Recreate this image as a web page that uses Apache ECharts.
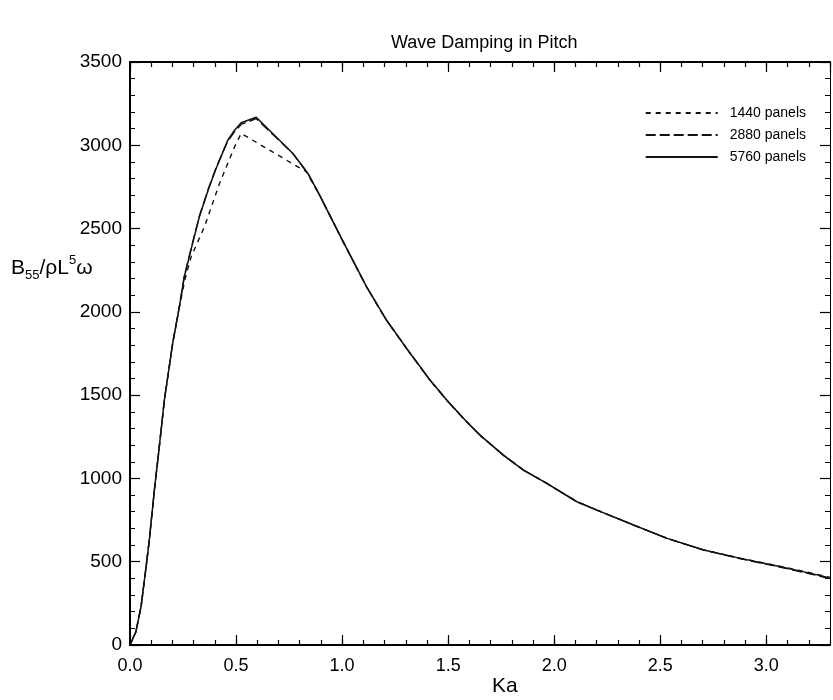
<!DOCTYPE html>
<html>
<head>
<meta charset="utf-8">
<script src="https://cdn.jsdelivr.net/npm/echarts@6/dist/echarts.min.js"></script>
<style>
  html, body { margin: 0; padding: 0; background: #fff; }
  #chart { width: 833px; height: 700px; }
</style>
</head>
<body>
<div id="chart"></div>
<script>
// Ka values and damping for each mesh
var ka5760 = [0, 0.028, 0.052, 0.072, 0.091, 0.115, 0.138, 0.162, 0.201, 0.233, 0.256, 0.293, 0.327, 0.371, 0.406, 0.461, 0.493, 0.524, 0.595, 0.768, 0.839, 0.894, 0.997, 1.115, 1.209, 1.304, 1.414, 1.500, 1.587, 1.650, 1.760, 1.855, 1.965, 2.107, 2.201, 2.374, 2.532, 2.705, 2.878, 3.067, 3.209, 3.300];
var b5760 = [0, 80, 230, 430, 630, 930, 1190, 1470, 1810, 2031, 2211, 2401, 2571, 2741, 2861, 3031, 3091, 3135, 3168, 2951, 2831, 2701, 2441, 2151, 1951, 1781, 1591, 1460, 1340, 1260, 1140, 1050, 970, 860, 810, 720, 640, 570, 520, 470, 430, 403];

var ka2880 = [0, 0.028, 0.052, 0.072, 0.091, 0.115, 0.138, 0.162, 0.201, 0.233, 0.256, 0.293, 0.327, 0.371, 0.406, 0.461, 0.493, 0.524, 0.595, 0.768, 0.839, 0.894, 0.997, 1.115, 1.209, 1.304, 1.414, 1.500, 1.587, 1.650, 1.760, 1.855, 1.965, 2.107, 2.201, 2.374, 2.532, 2.705, 2.878, 3.067, 3.209, 3.300];
var b2880 = [0, 82, 232, 432, 632, 932, 1192, 1472, 1812, 2035, 2215, 2405, 2575, 2745, 2866, 3025, 3082, 3125, 3160, 2950, 2830, 2700, 2440, 2150, 1950, 1780, 1590, 1460, 1340, 1260, 1140, 1050, 970, 860, 810, 720, 640, 570, 518, 467, 426, 398];

var ka1440 = [0, 0.028, 0.052, 0.072, 0.091, 0.115, 0.138, 0.162, 0.201, 0.233, 0.260, 0.288, 0.351, 0.422, 0.493, 0.524, 0.831, 0.894, 0.997, 1.115, 1.209, 1.304, 1.414, 1.500, 1.587, 1.650, 1.760, 1.855, 1.965, 2.107, 2.201, 2.374, 2.532, 2.705, 2.878, 3.067, 3.209, 3.300];
var b1440 = [0, 78, 226, 426, 626, 926, 1186, 1466, 1805, 2030, 2200, 2330, 2511, 2771, 2991, 3071, 2841, 2700, 2440, 2150, 1950, 1780, 1590, 1460, 1340, 1260, 1140, 1050, 970, 860, 810, 720, 640, 570, 521, 472, 433, 406];

var seriesNames = ["1440 panels", "2880 panels", "5760 panels"];

function pairs(xs, ys) {
  var out = [];
  for (var i = 0; i < xs.length; i++) {
    out.push([xs[i], ys[i]]);
  }
  return out;
}

var myChart = echarts.init(document.getElementById("chart"));
var font = "'Liberation Sans', Arial, Helvetica, sans-serif";

// shared axis pieces
function xAx(pos, interval, len, labels) {
  return {
    type: "value",
    position: pos,
    min: 0,
    max: 3.3,
    interval: interval,
    splitLine: { show: false },
    axisLine: { show: labels !== null, onZero: false, lineStyle: { color: "#000", width: 2 } },
    axisTick: { show: true, inside: true, length: len, lineStyle: { color: "#000", width: 1.2 } },
    axisLabel: labels ? {
      show: true,
      margin: 12,
      showMaxLabel: false,
      color: "#000",
      fontSize: 18,
      fontFamily: font,
      formatter: function (v) { return v.toFixed(1); }
    } : { show: false }
  };
}

function yAx(pos, labels, lw) {
  return {
    type: "value",
    position: pos,
    min: 0,
    max: 3500,
    interval: 500,
    splitLine: { show: false },
    axisLine: { show: true, onZero: false, lineStyle: { color: "#000", width: lw } },
    axisTick: { show: true, inside: true, length: 10, lineStyle: { color: "#000", width: 1.2 } },
    minorTick: { show: true, splitNumber: 5, length: 5, lineStyle: { color: "#000", width: 1 } },
    axisLabel: labels ? {
      show: true,
      margin: 8,
      color: "#000",
      fontSize: 19,
      fontFamily: font,
      formatter: function (v) { return String(v); }
    } : { show: false }
  };
}

var option = {
  animation: false,
  backgroundColor: "#fff",
  title: {
    text: "Wave Damping in Pitch",
    left: 386,
    top: 29,
    textStyle: { color: "#000", fontSize: 18, fontWeight: "normal", fontFamily: font }
  },
  legend: {
    orient: "vertical",
    right: 22,
    top: 101,
    itemWidth: 72,
    itemHeight: 16,
    itemGap: 8,
    data: seriesNames,
    itemStyle: { opacity: 0 },
    textStyle: { color: "#000", fontSize: 14, fontFamily: font, padding: [0, 0, 0, 7] }
  },
  grid: {
    left: 130,
    right: 3,
    top: 62,
    bottom: 55,
    containLabel: false
  },
  xAxis: [
    xAx("bottom", 0.5, 10, true),
    xAx("bottom", 0.1, 5, null),
    xAx("top", 0.5, 10, false),
    xAx("top", 0.1, 5, null)
  ],
  yAxis: [
    yAx("left", true, 2),
    yAx("right", false, 1)
  ],
  graphic: [
    {
      type: "text",
      left: 11,
      top: 254,
      style: {
        text: "{b|B}{s|55}{b|/ρL}{p|5}{b|ω}",
        fill: "#000",
        font: "21px " + font,
        rich: {
          b: { fontSize: 21, fontFamily: font, fill: "#000", lineHeight: 28, verticalAlign: "middle" },
          s: { fontSize: 13, fontFamily: font, fill: "#000", lineHeight: 28, verticalAlign: "bottom" },
          p: { fontSize: 13, fontFamily: font, fill: "#000", lineHeight: 28, verticalAlign: "top" }
        }
      }
    },
    {
      type: "text",
      left: 492,
      top: 676,
      style: { text: "Ka", fill: "#000", font: "21px " + font }
    }
  ],
  series: [
    {
      name: seriesNames[0],
      type: "line",
      symbol: "none",
      smooth: false,
      xAxisIndex: 0,
      yAxisIndex: 0,
      data: pairs(ka1440, b1440),
      itemStyle: { color: "#111" },
      lineStyle: { color: "#111", width: 1.4, type: [5, 5] },
      z: 3
    },
    {
      name: seriesNames[1],
      type: "line",
      symbol: "none",
      smooth: false,
      xAxisIndex: 0,
      yAxisIndex: 0,
      data: pairs(ka2880, b2880),
      itemStyle: { color: "#111" },
      lineStyle: { color: "#111", width: 1.4, type: [10, 4] },
      z: 3
    },
    {
      name: seriesNames[2],
      type: "line",
      symbol: "none",
      smooth: false,
      xAxisIndex: 0,
      yAxisIndex: 0,
      data: pairs(ka5760, b5760),
      itemStyle: { color: "#111" },
      lineStyle: { color: "#111", width: 1.5, type: "solid" },
      z: 4
    }
  ]
};

myChart.setOption(option, true);
window.addEventListener("resize", () => {
  myChart.resize();
});
</script>
</body>
</html>
